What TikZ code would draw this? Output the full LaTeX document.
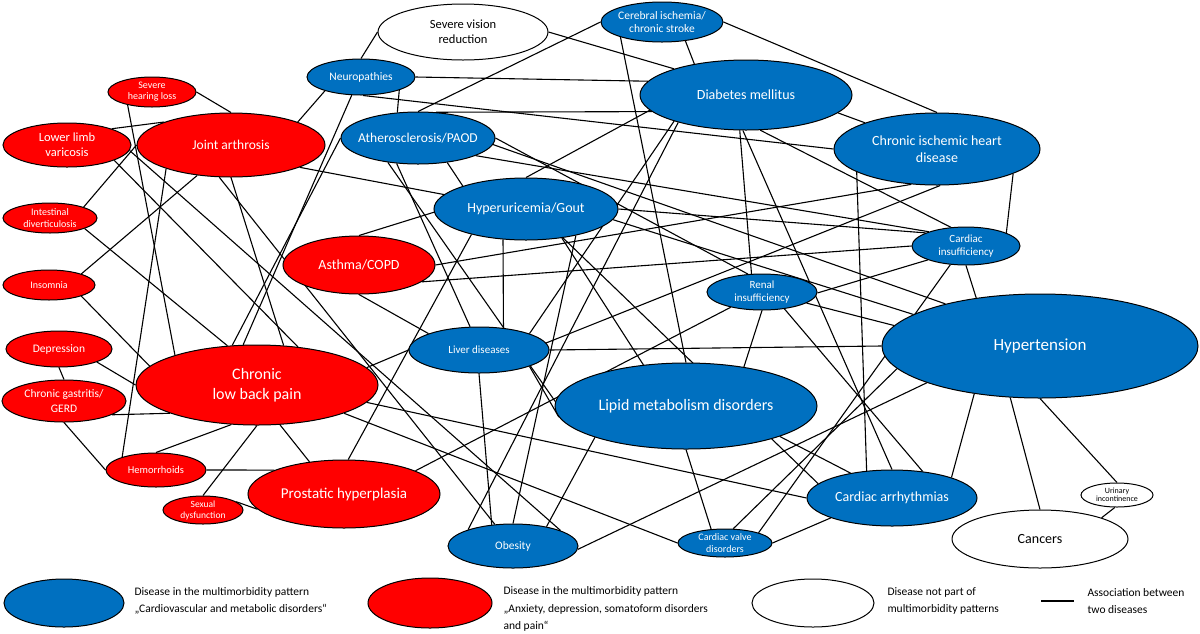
\documentclass[tikz,border=0pt]{standalone}
\usepackage{fontspec}
\setmainfont{Carlito}
\usetikzlibrary{shapes.geometric,backgrounds}
\definecolor{cvblue}{RGB}{0,112,192}
\definecolor{adred}{RGB}{255,0,0}

\begin{document}
\begin{tikzpicture}[x=1pt,y=-1pt,
    dis/.style={ellipse,draw=black,line width=1pt,inner xsep=-10pt,inner ysep=-1pt,align=center},
    cvm/.style={dis,fill=cvblue,text=white},
    adp/.style={dis,fill=adred,text=white},
    oth/.style={dis,fill=white,text=black},
    sz/.style 2 args={minimum width=#1pt,minimum height=#2pt},
    fs/.style 2 args={font=\fontsize{#1}{#2}\selectfont},
    every edge/.append style={line width=1.1pt}]
  \useasboundingbox (0,0) rectangle (1200,633);

  % diseases
  \node[oth, sz={170}{56}, fs={12.5}{15}] (svr) at (463,32) {Severe vision\\reduction};
  \node[cvm, sz={122}{40}, fs={11.5}{13.5}] (cis) at (662,22) {Cerebral ischemia/\\chronic stroke};
  \node[cvm, sz={108}{36}, fs={11.5}{13}] (neu) at (361,77) {Neuropathies};
  \node[cvm, sz={212}{70}, fs={14}{16}] (dia) at (746,95) {Diabetes mellitus};
  \node[adp, sz={88}{30}, fs={10}{11}] (shl) at (152,92) {Severe\\hearing loss};
  \node[adp, sz={128}{44}, fs={12.5}{15}] (llv) at (67,145) {Lower limb\\varicosis};
  \node[adp, sz={188}{64}, fs={13.5}{15}] (ja) at (231,145) {Joint arthrosis};
  \node[cvm, sz={154}{52}, fs={13.5}{15}] (ath) at (418,138) {Atherosclerosis/PAOD};
  \node[cvm, sz={206}{72}, fs={14}{17}] (cihd) at (937,149) {Chronic ischemic heart\\disease};
  \node[cvm, sz={184}{62}, fs={14}{16}] (gout) at (526,209) {Hyperuricemia/Gout};
  \node[adp, sz={94}{30}, fs={10}{11.5}] (idv) at (50,218) {Intestinal\\diverticulosis};
  \node[adp, sz={92}{30}, fs={10}{11.5}] (ins) at (49,285) {Insomnia};
  \node[adp, sz={152}{58}, fs={14}{16}] (ast) at (359,265) {Asthma/COPD};
  \node[cvm, sz={108}{38}, fs={11}{13.5}] (cin) at (966,246) {Cardiac\\insufficiency};
  \node[cvm, sz={110}{36}, fs={11}{13.5}] (ren) at (762,292) {Renal\\insufficiency};
  \node[adp, sz={106}{36}, fs={11.5}{13}] (dep) at (59,349) {Depression};
  \node[adp, sz={124}{42}, fs={11.5}{14.5}] (gas) at (64,401) {Chronic gastritis/\\GERD};
  \node[adp, sz={242}{80}, fs={16}{20}] (clbp) at (257,385) {Chronic\\low back pain};
  \node[cvm, sz={140}{46}, fs={11}{13}] (liv) at (479,350) {Liver diseases};
  \node[cvm, sz={316}{104}, fs={17}{19}] (htn) at (1040,346) {Hypertension};
  \node[cvm, sz={262}{86}, fs={16}{19}] (lip) at (686,406) {Lipid metabolism disorders};
  \node[adp, sz={100}{34}, fs={10.5}{12}] (hem) at (156,470) {Hemorrhoids};
  \node[adp, sz={80}{28}, fs={9.5}{11}] (sex) at (203,510) {Sexual\\dysfunction};
  \node[adp, sz={192}{68}, fs={15}{17}] (pro) at (344,494) {Prostatic hyperplasia};
  \node[cvm, sz={170}{56}, fs={14}{16}] (arr) at (892,498) {Cardiac arrhythmias};
  \node[oth, sz={72}{24}, fs={8}{8.5}] (uri) at (1117,495) {Urinary\\incontinence};
  \node[oth, sz={176}{58}, fs={14}{16}] (can) at (1040,539) {Cancers};
  \node[cvm, sz={130}{44}, fs={11.5}{13}] (obe) at (513,546) {Obesity};
  \node[cvm, sz={94}{28}, fs={10}{11.5}] (val) at (725,543) {Cardiac valve\\disorders};

  % associations
  \begin{scope}[on background layer]
  \path
    (svr.180) edge (neu.90) (svr.0) edge (dia.160)
    (cis.180) edge (ath.90) (cis.0) edge (cihd.90) (cis.321) edge (dia.149) (cis.200) edge (lip.90)
    (neu.201) edge (ja.19) (neu.243) edge (clbp.109) (neu.0) edge (dia.172)
    (neu.341) edge (ath.129) (neu.276) edge (cihd.180)
    (shl.0) edge (ja.90) (shl.208) edge (clbp.160)
    (llv.20) edge (ja.161) (llv.342) edge (clbp.43) (llv.355) edge (obe.18)
    (ja.180) edge (idv.18) (ja.222) edge (ins.19) (ja.200) edge (hem.159)
    (ja.342) edge (gout.170) (ja.270) edge (clbp.56) (ja.250) edge (obe.130)
    (idv.343) edge (clbp.127)
    (ins.341) edge (clbp.170)
    (dep.341) edge (clbp.180) (dep.270) edge (gas.90)
    (gas.344) edge (clbp.198) (gas.270) edge (hem.180)
    (hem.90) edge (clbp.237) (hem.0) edge (pro.161)
    (sex.14) edge (pro.190) (sex.90) edge (clbp.270)
    (clbp.300) edge (pro.137) (clbp.9) edge (liv.180) (clbp.351) edge (arr.180) (clbp.342) edge (val.180);
  \path
    (ath.180) edge (clbp.122) (ath.320) edge (gout.160) (ath.230) edge (liv.111) (ath.219) edge (lip.178)
    (ath.0) edge (ren.128) (ath.343) edge (cin.159) (ath.355) edge (htn.156) (ath.55) edge (dia.190)
    (ast.90) edge (gout.182) (ast.270) edge (liv.162) (ast.0) edge (cihd.234) (ast.345) edge (cin.180)
    (gout.90) edge (dia.189) (gout.233) edge (liv.42) (gout.321) edge (lip.136) (gout.322) edge (arr.169)
    (gout.0) edge (cin.162) (gout.353) edge (htn.166) (gout.332) edge (obe.90) (gout.205) edge (pro.83)
    (pro.18) edge (ren.206)
    (dia.260) edge (ren.120) (dia.292) edge (cin.129) (dia.265) edge (arr.90)
    (dia.349) edge (cihd.160) (dia.200) edge (liv.18) (dia.202) edge (obe.160)
    (cihd.196) edge (arr.133) (cihd.275) edge (liv.6) (cihd.342) edge (cin.18)
    (cin.270) edge (htn.143) (cin.200) edge (ren.359) (cin.230) edge (val.17)
    (ren.346) edge (htn.172) (ren.323) edge (arr.41) (ren.270) edge (lip.34)
    (liv.0) edge (htn.180) (liv.270) edge (obe.135) (liv.342) edge (lip.185)
    (lip.199) edge (obe.30) (lip.270) edge (val.135) (lip.342) edge (arr.149)
    (htn.216) edge (arr.19) (htn.240) edge (can.90) (htn.270) edge (uri.90)
    (htn.198) edge (obe.357) (htn.189) edge (val.60)
    (uri.260) edge (can.19)
    (val.0) edge (arr.198);
  \end{scope}

  % legend
  \node[cvm, sz={120}{48}] (lgc) at (64,603) {};
  \node[anchor=west, align=left, fs={11.5}{17.5}] (lgct) at (131,601)
    {Disease in the multimorbidity pattern\\„Cardiovascular and metabolic disorders“};
  \node[adp, sz={124}{50}] (lga) at (430,603) {};
  \node[anchor=west, align=left, fs={11.5}{17.5}] (lgat) at (500,609)
    {Disease in the multimorbidity pattern\\„Anxiety, depression, somatoform disorders\\and pain“};
  \node[oth, sz={122}{48}] (lgn) at (813,603) {};
  \node[anchor=west, align=left, fs={11.5}{17.5}] (lgnt) at (884,601)
    {Disease not part of\\multimorbidity patterns};
  \coordinate (lgl1) at (1041,601);
  \coordinate (lgl2) at (1074,601);
  \draw[line width=2pt] (lgl1) -- (lgl2);
  \node[anchor=west, align=left, fs={11.5}{17.5}] (lglt) at (1084,601)
    {Association between\\two diseases};
\end{tikzpicture}
\end{document}
